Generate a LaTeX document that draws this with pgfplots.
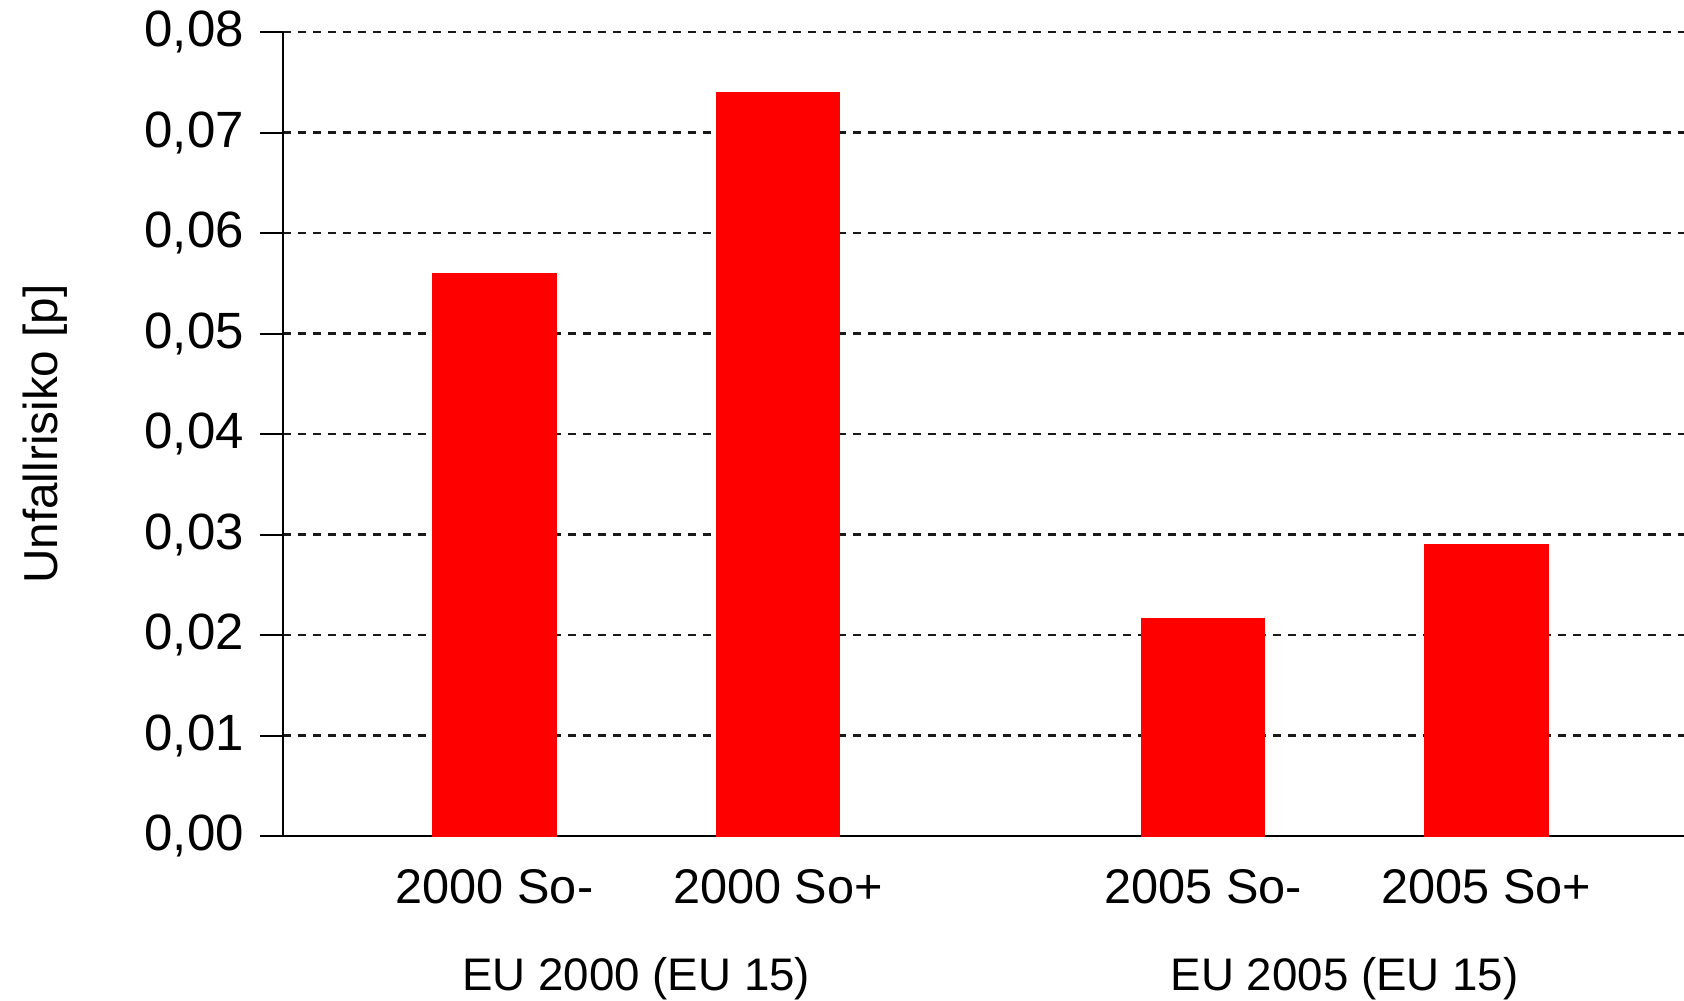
\documentclass[border=0pt]{standalone}
\usepackage{pgfplots}
\pgfplotsset{compat=1.18}
\usepackage{fontspec}
\setmainfont{Liberation Sans}
\begin{document}
\begin{tikzpicture}
\path[use as bounding box] (-84.9pt,-49.2pt) rectangle (420.3pt,250.8pt);
\begin{axis}[
  at={(0,0)}, anchor=south west,
  scale only axis,
  width=420.3pt, height=241.2pt,
  xmin=0.2535, xmax=5.197,
  ymin=0, ymax=0.08,
  ytick={0,0.01,0.02,0.03,0.04,0.05,0.06,0.07,0.08},
  xtick={1,2,3.5,4.5},
  xticklabels={2000 So-,2000 So+,2005 So-,2005 So+},
  axis lines*=left,
  axis line style={-, line width=0.6pt, black},
  xtick style={draw=none},
  ytick style={line width=0.6pt, black},
  tick align=outside,
  major tick length=7pt,
  ymajorgrids,
  grid style={dash pattern=on 2.4pt off 2.1pt, line width=0.65pt, black!90},
  /pgf/number format/assume math mode=true,
  yticklabel style={/pgf/number format/fixed, /pgf/number format/fixed zerofill, /pgf/number format/precision=2, /pgf/number format/use comma, font=\fontsize{15.3}{18}\selectfont, xshift=-1.2pt},
  scaled y ticks=false,
  xticklabel style={font=\fontsize{14.6}{17}\selectfont, yshift=0.6pt},
  ylabel={Unfallrisiko [p]},
  every axis y label/.style={at={(axis description cs:-0.1699,0.5)}, rotate=90, anchor=center, font=\fontsize{14.3}{17}\selectfont},
  clip=false,
]
\addplot[ybar, bar width=37pt, fill=red, draw=red] coordinates {
  (1,0.056) (2,0.074) (3.5,0.0216) (4.5,0.029)
};
\node[font=\fontsize{13.7}{16}\selectfont, anchor=center] at (axis cs:1.5,0) [yshift=-42.7pt] {EU 2000 (EU 15)};
\node[font=\fontsize{13.7}{16}\selectfont, anchor=center] at (axis cs:4.0,0) [yshift=-42.7pt] {EU 2005 (EU 15)};
\end{axis}
\end{tikzpicture}
\end{document}
